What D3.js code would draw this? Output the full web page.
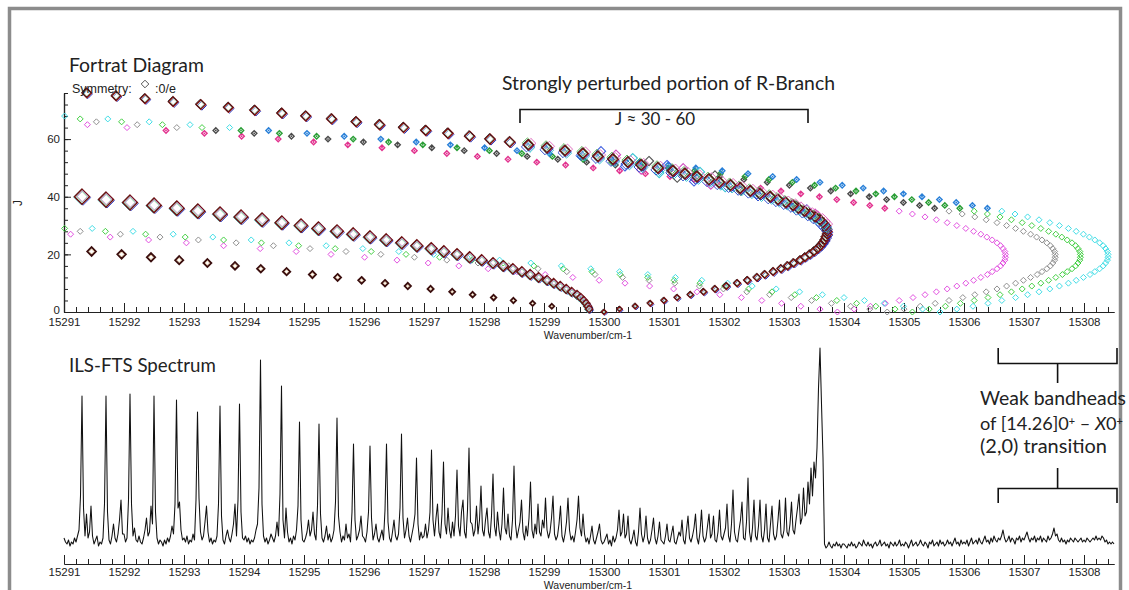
<!DOCTYPE html>
<html>
<head>
<meta charset="utf-8">
<script src="https://cdn.jsdelivr.net/npm/d3@7"></script>
<style>
  body { margin: 0; background: #fff; }
  svg { display: block; }
</style>
</head>
<body>
<svg id="chart" width="1129" height="590"></svg>
<script>
// ---------------- data ----------------
const wavenumberTicks = [15291, 15292, 15293, 15294, 15295, 15296, 15297, 15298, 15299,
  15300, 15301, 15302, 15303, 15304, 15305, 15306, 15307, 15308];
const jTicks = [0, 20, 40, 60];

// main band, P lines [wavenumber, J]
const mainP = [[15291.30,40],[15291.70,39],[15292.10,38],[15292.50,37],[15292.88,36],[15293.23,35],
  [15293.60,34],[15293.95,33],[15294.30,32],[15294.63,31],[15294.95,30],[15295.24,29],[15295.55,28],
  [15295.82,27],[15296.10,26],[15296.37,25],[15296.63,24],[15296.88,23],[15297.12,22],[15297.33,21],
  [15297.55,20],[15297.76,19],[15297.96,18],[15298.15,17],[15298.32,16],[15298.48,15],[15298.63,14],
  [15298.77,13],[15298.91,12],[15299.05,11],[15299.16,10],[15299.27,9],[15299.37,8],[15299.46,7],
  [15299.55,6],[15299.61,5],[15299.66,4],[15299.70,3],[15299.73,2],[15299.75,1]];

// main band, R lines: wavenumber for J = 0, 1, 2, ...
const mainR = [15300.00,15300.26,15300.52,15300.77,15301.00,15301.22,15301.44,15301.66,15301.85,15302.04,
  15302.22,15302.39,15302.55,15302.68,15302.82,15302.95,15303.06,15303.16,15303.27,15303.35,
  15303.43,15303.50,15303.56,15303.61,15303.65,15303.68,15303.70,15303.72,15303.72,15303.71,
  15303.69,15303.65,15303.60,15303.52,15303.43,15303.34,15303.24,15303.15,15303.03,15302.90,
  15302.77,15302.60,15302.44,15302.27,15302.11,15301.92,15301.75,15301.55,15301.35,15301.15,
  15300.90,15300.62,15300.40,15300.15,15299.90,15299.65,15299.35,15299.05,15298.74,15298.43,
  15298.10,15297.76,15297.40,15297.03,15296.66,15296.26,15295.87,15295.46,15295.03,15294.63,
  15294.18,15293.74,15293.28,15292.82,15292.35,15291.87,15291.38];

// second P-type progression [wavenumber, J]
const darkP = [[15291.46,21],[15291.96,20],[15292.45,19],[15292.92,18],[15293.39,17],[15293.85,16],
  [15294.28,15],[15294.71,14],[15295.14,13],[15295.56,12],[15295.96,11],[15296.35,10],[15296.73,9],
  [15297.11,8],[15297.47,7],[15297.81,6],[15298.16,5],[15298.49,4],[15298.81,3],[15299.13,2]];

// extra assignments inside the perturbed R-branch region [wavenumber, J]
const perturbedExtra = [[15299.95,55.8],[15300.20,54.6],[15300.48,53.4],[15300.75,52.4],[15301.05,51.0],
  [15301.32,49.9],[15301.60,48.6],[15301.85,47.4],[15300.35,50.5],[15300.62,49.4],[15300.92,48.2],
  [15301.22,46.6],[15301.50,45.3],[15301.78,44.2],[15302.02,43.3],[15302.28,42.1],[15302.55,40.8],
  [15302.78,39.7],[15303.00,38.4],[15303.20,37.0],[15303.38,35.6],[15303.52,34.1]];

// [14.26]0+ - X0+ (2,0) components: R lines for J = 0.., P lines for J = 1..
const magentaR = [15303.89,15304.17,15304.44,15304.69,15304.92,15305.15,15305.35,15305.54,15305.72,15305.88,
  15306.03,15306.16,15306.28,15306.39,15306.47,15306.55,15306.61,15306.65,15306.68,15306.69,
  15306.69,15306.68,15306.65,15306.61,15306.55,15306.47,15306.38,15306.28,15306.16,15306.03,
  15305.88,15305.72,15305.54,15305.35,15305.14,15304.92,15304.68,15304.43,15304.16,15303.88,
  15303.59,15303.28,15302.95,15302.61,15302.26,15301.89,15301.50,15301.10,15300.69,15300.26,
  15299.82,15299.36,15298.88,15298.40,15297.89,15297.38,15296.84,15296.30,15295.73,15295.16,
  15294.57,15293.96,15293.34,15292.70,15292.05,15291.39];
const magentaP = [15303.60,15303.28,15302.96,15302.63,15302.29,15301.93,15301.55,15301.16,15300.76,15300.35,
  15299.92,15299.48,15299.02,15298.55,15298.07,15297.58,15297.07,15296.55,15296.01,15295.45,
  15294.87,15294.27,15293.66,15293.04,15292.41,15291.77,15291.11];

const grayR = [15304.72,15305.00,15305.27,15305.52,15305.75,15305.98,15306.18,15306.37,15306.55,15306.71,
  15306.86,15306.99,15307.11,15307.22,15307.30,15307.38,15307.44,15307.48,15307.51,15307.52,
  15307.52,15307.51,15307.48,15307.44,15307.38,15307.30,15307.21,15307.11,15306.99,15306.86,
  15306.71,15306.55,15306.37,15306.18,15305.97,15305.75,15305.51,15305.26,15304.99,15304.71,
  15304.42,15304.11,15303.78,15303.44,15303.09,15302.72,15302.33,15301.93,15301.52,15301.09,
  15300.65,15300.19,15299.71,15299.23,15298.72,15298.21,15297.67,15297.13,15296.56,15295.99,
  15295.40,15294.79,15294.17,15293.53,15292.88,15292.22,15291.54];
const grayP = [15304.43,15304.11,15303.79,15303.46,15303.12,15302.76,15302.38,15301.99,15301.59,15301.18,
  15300.75,15300.31,15299.85,15299.38,15298.90,15298.41,15297.90,15297.38,15296.84,15296.28,
  15295.70,15295.10,15294.49,15293.87,15293.24,15292.60,15291.94,15291.27];

const greenR = [15305.14,15305.42,15305.69,15305.94,15306.17,15306.40,15306.60,15306.79,15306.97,15307.13,
  15307.28,15307.41,15307.53,15307.64,15307.72,15307.80,15307.86,15307.90,15307.93,15307.94,
  15307.94,15307.93,15307.90,15307.86,15307.80,15307.72,15307.63,15307.53,15307.41,15307.28,
  15307.13,15306.97,15306.79,15306.60,15306.39,15306.17,15305.93,15305.68,15305.41,15305.13,
  15304.84,15304.53,15304.20,15303.86,15303.51,15303.14,15302.75,15302.35,15301.94,15301.51,
  15301.07,15300.61,15300.13,15299.65,15299.14,15298.63,15298.09,15297.55,15296.98,15296.41,
  15295.82,15295.21,15294.59,15293.95,15293.30,15292.64,15291.96,15291.27];
const greenP = [15304.85,15304.53,15304.21,15303.88,15303.54,15303.18,15302.80,15302.41,15302.01,15301.60,
  15301.17,15300.73,15300.27,15299.80,15299.32,15298.83,15298.32,15297.80,15297.26,15296.70,
  15296.12,15295.52,15294.91,15294.29,15293.66,15293.02,15292.36,15291.69,15291.01];

const cyanR = [15305.60,15305.88,15306.15,15306.40,15306.63,15306.86,15307.06,15307.25,15307.43,15307.59,
  15307.74,15307.87,15307.99,15308.10,15308.18,15308.26,15308.32,15308.36,15308.39,15308.40,
  15308.40,15308.39,15308.36,15308.32,15308.26,15308.18,15308.09,15307.99,15307.87,15307.74,
  15307.59,15307.43,15307.25,15307.06,15306.85,15306.63,15306.39,15306.14,15305.87,15305.59,
  15305.30,15304.99,15304.66,15304.32,15303.97,15303.60,15303.21,15302.81,15302.40,15301.97,
  15301.53,15301.07,15300.59,15300.11,15299.60,15299.09,15298.55,15298.01,15297.44,15296.87,
  15296.28,15295.67,15295.05,15294.41,15293.76,15293.10,15292.42,15291.73,15291.01];
const cyanP = [15305.31,15304.99,15304.67,15304.34,15304.00,15303.64,15303.26,15302.87,15302.47,15302.06,
  15301.63,15301.19,15300.73,15300.26,15299.78,15299.29,15298.78,15298.26,15297.72,15297.16,
  15296.58,15295.98,15295.37,15294.75,15294.12,15293.48,15292.82,15292.15,15291.47];

// ILS-FTS spectrum, relative intensity sampled every 0.025 cm-1 from 15291.000
const spectrumStart = 15291.0;
const spectrumStep = 0.025;
const spectrum = [
  5,3,2,4,1,3,2,5,3,6, 9,26,76,20,6,17,5,8,21,6, 2,4,6,1,3,2,5,22,76,18, 4,2,6,12,5,3,7,14,24,7,
  7,3,5,24,77,22,6,10,4,3, 6,3,2,5,9,15,6,8,21,12, 76,18,5,2,4,3,1,4,2,5, 3,6,11,7,22,74,20,23,9,4,
  5,3,6,2,4,3,7,4,24,68, 25,8,4,6,13,21,8,3,5,2, 4,3,6,22,71,16,4,2,6,9, 5,3,7,12,22,6,24,72,18,5,
  4,6,3,5,2,4,3,5,9,12, 30,94,22,6,3,5,2,4,7,5, 3,6,13,6,27,81,14,5,20,8, 3,5,2,6,4,9,21,63,14,4,
  3,5,8,14,6,9,18,7,4,21, 62,17,5,3,6,11,4,7,3,5, 9,23,65,16,8,3,6,4,12,5, 7,3,18,52,14,4,6,9,16,6,
  5,3,8,18,51,15,4,7,12,5, 3,6,9,4,19,52,13,5,3,8, 14,6,4,7,20,57,15,5,9,15, 6,3,7,11,17,45,12,4,8,5,
  6,12,5,9,18,49,14,6,15,22, 8,5,17,43,12,7,20,9,5,13, 6,16,39,11,6,18,24,8,5,19, 50,13,12,6,9,21,7,14,31,9,
  6,14,20,8,5,16,37,11,6,18, 9,4,12,30,10,7,17,6,4,14, 41,12,5,9,13,24,8,4,11,6, 15,33,9,5,12,7,22,8,6,14,
  10,25,9,5,8,15,26,7,4,6, 12,21,6,3,7,13,25,9,4,6, 3,8,14,26,10,6,17,7,3,5, 2,6,11,4,2,5,8,12,4,2,
  3,5,7,2,4,1,6,3,5,9, 19,6,8,17,5,7,16,4,2,5, 9,3,1,8,20,7,3,6,16,5, 2,4,9,15,5,2,6,13,4,3,
  2,6,12,4,3,7,11,3,2,5, 8,6,14,4,2,9,16,5,3,6, 10,17,5,2,8,19,6,3,5,11, 17,5,7,16,4,3,8,19,6,4,
  7,10,22,6,3,12,29,8,4,3, 9,14,23,5,4,13,35,8,3,10, 24,6,4,11,24,6,3,9,22,5, 3,12,21,7,4,6,14,24,7,5,
  9,25,8,6,12,23,9,7,14,20, 27,12,15,30,16,18,33,22,40,26, 43,35,50,80,100,72,45,2,0,1, 3,1,0,2,1,3,1,2,0,2,
  2,1,0,2,1,3,1,2,0,1, 3,2,1,4,2,1,3,1,2,0, 2,3,1,2,4,1,2,3,1,2, 0,3,2,1,3,1,2,4,1,2,
  1,3,2,0,2,4,1,2,3,1, 2,4,2,1,3,2,0,3,2,4, 1,2,3,1,4,2,3,1,2,4, 2,3,1,3,5,2,3,1,4,2,
  3,2,4,1,3,5,2,3,4,2, 5,3,2,4,6,3,4,2,5,3, 6,4,3,5,4,6,9,5,3,4, 6,3,5,4,2,5,4,6,3,5,
  4,6,8,5,3,5,4,6,3,5, 4,6,3,5,4,3,6,4,5,7, 10,6,7,4,3,5,3,4,2,4, 3,5,4,3,5,4,3,4,5,3,
  4,3,5,4,3,4,5,4,6,4, 5,4,6,5,3,4,2,3,2,3, 2
];

// ---------------- layout ----------------
const svg = d3.select("#chart");
const x = d3.scaleLinear().domain([15291, 15308.5]).range([64, 1114]);
const yJ = d3.scaleLinear().domain([0, 76]).range([312, 93]);
const yI = d3.scaleLinear().domain([0, 100]).range([548, 348]);

const axisFont = "Liberation Sans, Arial, sans-serif";
const labelFont = "Lato, 'Open Sans', sans-serif";
const minorTicks = d3.range(15291, 15308.45, 0.2);

// outer frame
svg.append("rect").attr("x", 9.5).attr("y", 8.5).attr("width", 1111).attr("height", 640)
  .attr("fill", "none").attr("stroke", "#8c8c8c").attr("stroke-width", 3.5);

function drawXAxis(yPos, pad, titleOffset) {
  const g = svg.append("g").attr("transform", `translate(0,${yPos})`);
  g.append("g").call(d3.axisBottom(x).tickValues(minorTicks).tickSize(-5).tickSizeOuter(0).tickFormat(""));
  g.append("g").call(d3.axisBottom(x).tickValues(wavenumberTicks).tickSize(-9).tickSizeOuter(0)
    .tickPadding(pad).tickFormat(d => d));
  g.selectAll("path.domain").attr("stroke", "#222").attr("stroke-width", 1.2);
  g.selectAll(".tick line").attr("stroke", "#222");
  g.selectAll("text").attr("font-family", axisFont).attr("font-size", 11.5).attr("fill", "#222");
  g.append("text").attr("x", 588).attr("y", titleOffset).attr("text-anchor", "middle")
    .attr("font-family", axisFont).attr("font-size", 10.5).attr("fill", "#222").text("Wavenumber/cm-1");
  return g;
}

// ---------------- Fortrat diagram ----------------
drawXAxis(312, 6, 27);
const gy = svg.append("g").attr("transform", "translate(64,0)");
gy.append("g").call(d3.axisLeft(yJ).tickValues(d3.range(0, 77, 4)).tickSize(-4).tickSizeOuter(0).tickFormat(""));
gy.append("g").call(d3.axisLeft(yJ).tickValues(jTicks).tickSize(-7).tickSizeOuter(0).tickPadding(4));
gy.selectAll("path.domain").attr("stroke", "#222").attr("stroke-width", 1.2);
gy.selectAll(".tick line").attr("stroke", "#222");
gy.selectAll("text").attr("font-family", axisFont).attr("font-size", 11.5).attr("fill", "#222");
// keep the zero label clear of the wavenumber labels below it
gy.selectAll(".tick").filter(d => d === 0).select("text").attr("dy", "0.1em");
svg.append("text").attr("transform", "translate(22,203) rotate(-90)").attr("text-anchor", "middle")
  .attr("font-family", axisFont).attr("font-size", 12).attr("fill", "#222").text("J");

const diamond = r => `M0,${-r}L${r},0L0,${r}L${-r},0Z`;

function drawLayers(points, rFn, layersFn) {
  const g = svg.append("g");
  points.forEach(p => {
    layersFn(p).forEach(l => {
      g.append("path")
        .attr("transform", `translate(${x(p[0]) + l.dx},${yJ(p[1]) + l.dy})`)
        .attr("d", diamond(Math.max(1, rFn(p) + l.dr)))
        .attr("fill", "none").attr("stroke", l.color).attr("stroke-width", l.w);
    });
  });
}

// weak band components
const weakBands = [
  { R: magentaR, P: magentaP, light: "#e24fe0", deep: "#e2338f" },
  { R: grayR, P: grayP, light: "#8f8f8f", deep: "#4a4a4a" },
  { R: greenR, P: greenP, light: "#42cf42", deep: "#2a9e36" },
  { R: cyanR, P: cyanP, light: "#3fdde6", deep: "#2a80d8" }
];
const gWeak = svg.append("g");
weakBands.forEach(b => {
  const pts = b.R.map((w, j) => ({ w, j, branch: "R" }))
    .concat(b.P.map((w, i) => ({ w, j: i + 1, branch: "P" })));
  pts.forEach(p => {
    const deep = p.branch === "R" && p.j >= 36 && p.j <= 63;
    const cx = x(p.w), cy = yJ(p.j);
    gWeak.append("path").attr("transform", `translate(${cx},${cy})`)
      .attr("d", diamond(deep ? 2.7 : 3))
      .attr("fill", "none").attr("stroke", deep ? b.deep : b.light).attr("stroke-width", deep ? 1.4 : 1);
    if (deep) {
      gWeak.append("circle").attr("cx", cx).attr("cy", cy).attr("r", 0.9).attr("fill", b.deep);
    }
  });
});

// perturbed extra lines
const extraColors = ["#3f5fe0", "#d04fc0", "#38c4d4", "#505050"];
perturbedExtra.forEach((p, i) => {
  svg.append("path").attr("transform", `translate(${x(p[0])},${yJ(p[1])})`)
    .attr("d", diamond(4.6)).attr("fill", "none")
    .attr("stroke", extraColors[i % extraColors.length]).attr("stroke-width", 1.1);
});

// second P-type progression
const rDark = d3.scaleLinear().domain([2, 21]).range([2.4, 4.3]);
drawLayers(darkP, p => rDark(p[1]), () => [
  { dx: 0, dy: 0, dr: 0, color: "#3a0e0e", w: 1.9 },
  { dx: 0, dy: 0, dr: -1.7, color: "#d8b890", w: 0.8 }
]);

// main band P branch
const rP = d3.scaleLinear().domain([1, 40]).range([3.6, 7.5]);
drawLayers(mainP, p => rP(p[1]), () => [
  { dx: 1, dy: 1, dr: 0, color: "#2a3cc8", w: 0.9 },
  { dx: -0.8, dy: 0.4, dr: 0, color: "#2fc9c9", w: 0.9 },
  { dx: 0, dy: 0, dr: 0, color: "#6e1010", w: 1.6 },
  { dx: 0, dy: 0, dr: -1.9, color: "#9ed8b0", w: 1.1 },
  { dx: 0.6, dy: -0.6, dr: -1.9, color: "#d58ad5", w: 0.8 }
]);

// main band R branch
const rR = d3.scaleLinear().domain([0, 12, 28, 45, 76]).range([2.4, 3.6, 4.6, 5.3, 4.6]);
const mainRPoints = mainR.map((w, j) => [w, j]);
drawLayers(mainRPoints, p => rR(p[1]), p => {
  const base = [
    { dx: 1, dy: 1, dr: 0, color: "#2233c4", w: 1 },
    { dx: 0, dy: 0, dr: 0, color: "#8a0f0f", w: 1.6 },
    { dx: -0.6, dy: -0.6, dr: 0, color: "#222", w: 0.8 },
    { dx: 0, dy: 0, dr: -1.6, color: "#b8e0c0", w: 0.8 }
  ];
  if (p[1] >= 30 && p[1] <= 58) {
    return [
      { dx: 2.5, dy: -1.5, dr: 0, color: "#e070c0", w: 1 },
      { dx: -2, dy: 2, dr: 0, color: "#3050d0", w: 1 },
      { dx: 1.5, dy: 2.5, dr: 0, color: "#30c0d0", w: 1 },
      { dx: -1, dy: -2, dr: 0, color: "#50b050", w: 0.9 }
    ].concat(base);
  }
  return base;
});

// titles and legend
svg.append("text").attr("id", "t-fortrat").attr("x", 69).attr("y", 72)
  .attr("font-family", labelFont).attr("font-size", 20).attr("fill", "#222").text("Fortrat Diagram");
svg.append("text").attr("x", 72).attr("y", 93).attr("font-family", axisFont).attr("font-size", 12.5)
  .attr("fill", "#222").text("Symmetry:");
svg.append("path").attr("transform", "translate(145,84)").attr("d", diamond(3.8))
  .attr("fill", "none").attr("stroke", "#555").attr("stroke-width", 1);
svg.append("text").attr("x", 155).attr("y", 93).attr("font-family", axisFont).attr("font-size", 12.5)
  .attr("fill", "#222").text(":0/e");

// annotation: perturbed portion
svg.append("text").attr("id", "t-strong").attr("x", 502).attr("y", 90)
  .attr("font-family", labelFont).attr("font-size", 17).attr("fill", "#222")
  .text("Strongly perturbed portion of R-Branch");
svg.append("path")
  .attr("d", `M${x(15298.6)},123V109.5H${x(15303.4)}V123`)
  .attr("fill", "none").attr("stroke", "#111").attr("stroke-width", 1.6);
svg.append("text").attr("x", 655).attr("y", 124.5).attr("text-anchor", "middle")
  .attr("font-family", labelFont).attr("font-size", 17).attr("fill", "#222").text("J ≈ 30 - 60");

// ---------------- spectrum ----------------
drawXAxis(564, 4, 25);
const line = d3.line()
  .x((d, i) => x(spectrumStart + i * spectrumStep))
  .y(d => yI(d));
svg.append("path").datum(spectrum).attr("d", line)
  .attr("fill", "none").attr("stroke", "#111").attr("stroke-width", 1.05).attr("stroke-linejoin", "round");

svg.append("text").attr("id", "t-ils").attr("x", 69).attr("y", 372)
  .attr("font-family", labelFont).attr("font-size", 19).attr("fill", "#222").text("ILS-FTS Spectrum");

// annotation: weak bandheads
const bx0 = x(15306.57), bx1 = x(15308.55), bxm = (bx0 + bx1) / 2;
svg.append("path").attr("d", `M${bx0},348V363.5H${bx1}V348M${bxm},363.5V383`)
  .attr("fill", "none").attr("stroke", "#111").attr("stroke-width", 1.6);
svg.append("path").attr("d", `M${bxm},468V488.5M${bx0},503V488.5H${bx1}V503`)
  .attr("fill", "none").attr("stroke", "#111").attr("stroke-width", 1.6);

const weakText = svg.append("g").attr("font-family", labelFont).attr("fill", "#222");
weakText.append("text").attr("id", "t-weak1").attr("x", 980).attr("y", 405).attr("font-size", 17)
  .text("Weak bandheads");
const l2 = weakText.append("text").attr("id", "t-weak2").attr("x", 980).attr("y", 430).attr("font-size", 17);
l2.append("tspan").text("of [14.26]0");
l2.append("tspan").attr("font-size", "0.6em").attr("dy", "-0.42em").text("+");
l2.append("tspan").attr("dy", "0.25em").text(" – ");
l2.append("tspan").attr("font-style", "italic").text("X");
l2.append("tspan").text("0");
l2.append("tspan").attr("font-size", "0.6em").attr("dy", "-0.42em").text("+");
weakText.append("text").attr("id", "t-weak3").attr("x", 980).attr("y", 453).attr("font-size", 17)
  .text("(2,0) transition");

// fit annotation text widths to the layout
function fitWidth(id, width) {
  const sel = d3.select(id);
  const len = sel.node().getComputedTextLength();
  const fs = parseFloat(sel.attr("font-size"));
  const nfs = fs * width / len;
  sel.attr("font-size", nfs);
  return nfs;
}
fitWidth("#t-fortrat", 135);
fitWidth("#t-ils", 147);
fitWidth("#t-strong", 333);
fitWidth("#t-weak1", 146);
fitWidth("#t-weak2", 143);
fitWidth("#t-weak3", 127);
</script>
</body>
</html>
